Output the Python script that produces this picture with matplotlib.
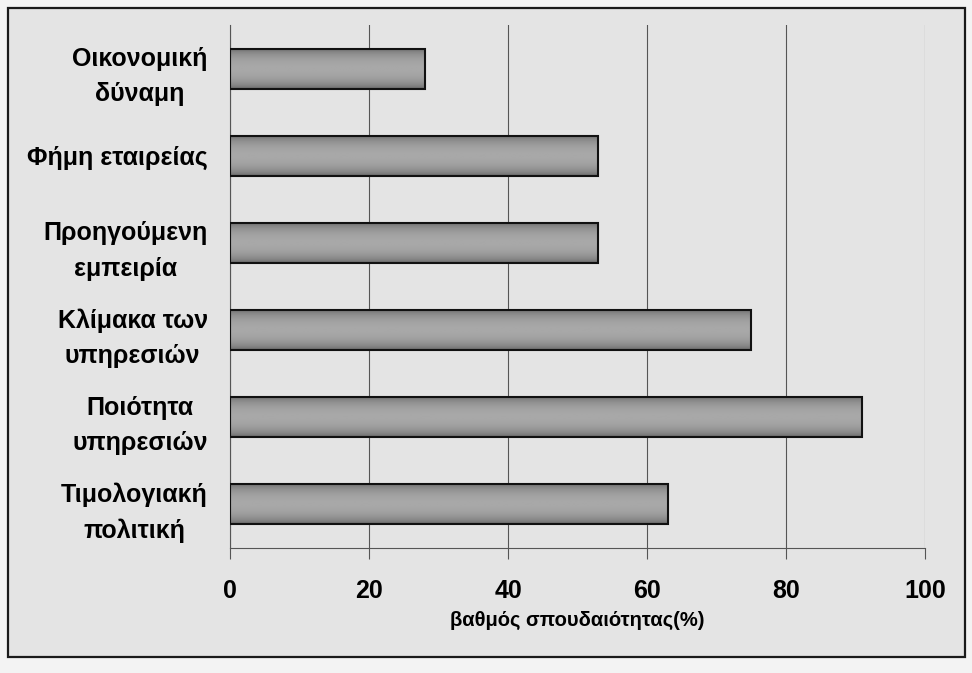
import matplotlib.pyplot as plt
import numpy as np
from matplotlib.patches import Rectangle

plt.rcParams['font.family'] = ['Liberation Sans', 'DejaVu Sans']

categories = ['Οικονομική\nδύναμη', 'Φήμη εταιρείας', 'Προηγούμενη\nεμπειρία',
              'Κλίμακα των\nυπηρεσιών', 'Ποιότητα\nυπηρεσιών', 'Τιμολογιακή\nπολιτική']
values = [28, 53, 53, 75, 91, 63]
xticks = [0, 20, 40, 60, 80, 100]
xlabel = 'βαθμός σπουδαιότητας(%)'

fig = plt.figure(figsize=(9.72, 6.73), dpi=100)
fig.patch.set_facecolor('#f3f3f3')
# outer frame
fig.patches.append(Rectangle((8 / 972, 1 - 657 / 673), 957 / 972, 649 / 673,
                             transform=fig.transFigure, facecolor='#e4e4e4',
                             edgecolor='#1a1a1a', lw=1.6, zorder=-10))

ax = fig.add_axes([230 / 972, 1 - 548 / 673, 695 / 972, 523 / 673])
ax.patch.set_alpha(0)

y = np.arange(len(categories))
h = 0.46
bars = ax.barh(y, values, height=h, facecolor='none', edgecolor='#111111',
               lw=1.5, zorder=3)

# cylinder-like shading inside every bar
t = np.linspace(-1, 1, 64)
shade = (0.38 + 0.28 * (1 - t**2) ** 0.6)[:, None]
for bar, v, yi in zip(bars, values, y):
    im = ax.imshow(shade, cmap='gray', vmin=0, vmax=1, aspect='auto',
                   extent=(0, v, yi + h / 2, yi - h / 2), zorder=2,
                   interpolation='bilinear')
    im.set_clip_path(bar)

ax.set_xlim(0, 100)
ax.set_ylim(5.5, -0.5)
ax.set_xticks(xticks)
ax.set_xticklabels([str(v) for v in xticks], fontsize=18, fontweight='bold')
ax.set_yticks(y)
ax.set_yticklabels(categories, fontsize=18, fontweight='bold',
                   ha='right', multialignment='center', linespacing=1.6)
ax.tick_params(axis='y', length=0, pad=16)
ax.tick_params(axis='x', length=8, width=0.8, color='#555555', pad=14)
ax.grid(axis='x', color='#555555', lw=0.8, zorder=1)
for s in ['top', 'right']:
    ax.spines[s].set_visible(False)
for s in ['left', 'bottom']:
    ax.spines[s].set_color('#555555')
    ax.spines[s].set_linewidth(0.8)
ax.set_xlabel(xlabel, fontsize=14.5, fontweight='bold', labelpad=6)

fig.savefig('out.png', dpi=100, facecolor=fig.get_facecolor())
